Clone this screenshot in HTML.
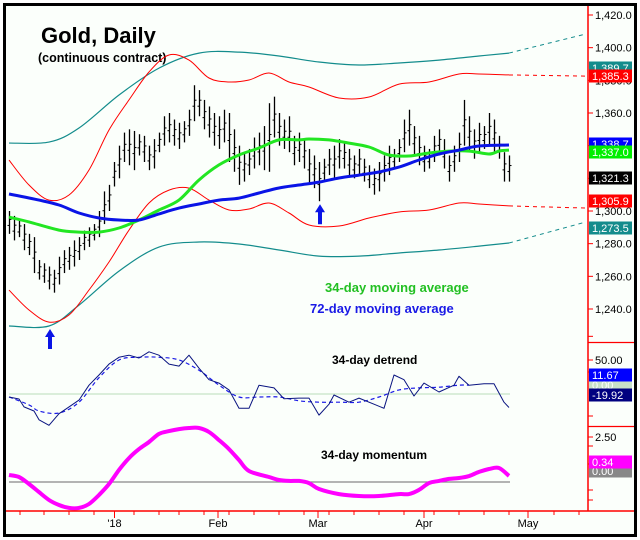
<!DOCTYPE html>
<html><head><meta charset="utf-8"><style>
html,body{margin:0;padding:0;background:#fff}
svg{display:block;font-family:"Liberation Sans",Arial,sans-serif}
</style></head><body>
<svg id="c" width="640" height="540" viewBox="0 0 640 540">
<rect x="0" y="0" width="640" height="540" fill="#fff"/>
<rect x="4.5" y="4.5" width="631" height="531" fill="#fbfffb" stroke="#000" stroke-width="3"/>
<text x="41" y="43" font-size="22" font-weight="bold" fill="#000">Gold, Daily</text>
<text x="38" y="62" font-size="12.5" font-weight="bold" fill="#000">(continuous contract)</text>
<text x="325" y="292" font-size="13" font-weight="bold" fill="#22c022">34-day moving average</text>
<text x="310" y="313" font-size="13" font-weight="bold" fill="#1a1ae6">72-day moving average</text>
<text x="332" y="364" font-size="12" font-weight="bold" fill="#000">34-day detrend</text>
<text x="321" y="459" font-size="12" font-weight="bold" fill="#000">34-day momentum</text>
<g id="plot"></g>
<g id="axis"></g>
</svg>
<script>
// ---- data ----
const highs=[1300,1297,1294,1292,1286,1284,1270,1268,1266,1264,1272,1276,1278,1282,1284,1288,1290,1292,1300,1312,1316,1330,1340,1348,1350,1349,1347,1346,1340,1344,1348,1358,1360,1356,1354,1355,1362,1377,1374,1368,1364,1360,1358,1362,1360,1350,1340,1336,1338,1345,1348,1352,1366,1370,1360,1356,1358,1346,1348,1344,1338,1334,1330,1332,1338,1340,1344,1342,1338,1334,1338,1332,1328,1326,1330,1334,1340,1338,1344,1356,1362,1352,1346,1340,1338,1346,1350,1344,1334,1340,1348,1368,1358,1350,1354,1352,1360,1356,1346,1336,1334];
const lows=[1286,1282,1284,1276,1273,1262,1258,1256,1252,1250,1255,1262,1264,1266,1270,1276,1278,1282,1284,1292,1300,1315,1320,1330,1328,1325,1334,1330,1325,1326,1336,1340,1342,1340,1338,1342,1346,1355,1358,1350,1345,1340,1338,1342,1330,1324,1316,1318,1322,1326,1328,1325,1324,1345,1340,1338,1336,1328,1330,1326,1316,1314,1306,1318,1322,1320,1326,1326,1322,1320,1322,1318,1314,1310,1312,1318,1322,1326,1330,1336,1340,1334,1328,1324,1326,1330,1334,1326,1318,1324,1330,1340,1336,1332,1336,1338,1340,1336,1332,1318,1318];
const bandIdx=[0,8,14,22,30,38,46,54,62,70,78,86,94,100];
const cyanUpper=[1341.6,1342.2,1350.8,1371,1387.5,1396.7,1397.3,1394.9,1391.2,1389.4,1390.6,1392.4,1394.9,1396.7];
const cyanLower=[1229.6,1229.6,1242.4,1263.2,1277.9,1281,1279.8,1276.1,1272.4,1272.4,1274.3,1276.1,1278.5,1280.4];
const redUpperIdx=[0,4,8,12,16,20,24,28,32,36,40,44,48,52,56,60,66,72,78,84,90,94,100];
const redUpper=[1331.2,1315.9,1306.7,1309.8,1325.1,1349.6,1368,1385.1,1395.5,1392.4,1381.4,1379,1380.2,1384.5,1379,1375.9,1369.2,1369.8,1377.7,1379,1383.9,1383.9,1383.3];
const redLower=[1251.6,1239.4,1232,1236.3,1251.6,1268.8,1288.3,1304.9,1312.8,1314,1306.7,1300.6,1301.2,1304.9,1298.8,1291.4,1290.8,1295.7,1299.4,1300.6,1304.9,1304.3,1303.1];
const maIdx=[0,4,10,14,18,22,26,30,34,38,42,46,50,54,58,60,64,68,72,76,80,84,88,92,96,98,100];
const ma34=[1296.3,1293.3,1288.3,1287.1,1287.1,1289.6,1294.5,1300.6,1306.7,1319,1328.2,1334.3,1338.6,1343.5,1343.5,1344.1,1343.5,1341.6,1339.2,1334.3,1333.7,1335.5,1336.7,1336.7,1334.9,1336.7,1337.3];
const ma72Idx=[0,6,10,14,18,22,26,30,34,38,42,46,50,54,58,62,66,70,74,78,82,86,90,94,100];
const ma72=[1310.4,1306.7,1303.7,1298.8,1295.7,1294.5,1294.5,1298.2,1301.8,1304.3,1306.7,1307.9,1311,1314.1,1315.9,1317.7,1320.2,1322,1323.9,1326.9,1331.2,1334.9,1337.3,1339.8,1340.4];
const dashEnd={cyanUpper:1408.4,cyanLower:1293.3,redUpper:1382.6,redLower:1301.8};
const detIdx=[0,2,3,5,6,8,10,12,14,16,18,20,22,24,26,28,30,32,34,36,38,40,42,44,46,48,50,53,55,58,60,62,64,65,68,70,73,75,77,79,81,83,86,89,90,92,95,97,98,99,100];
const detrend=[-4.4,-7.4,-19,-25,-38,-46,-29,-19,-9,13,28,44,54,57,53,62,57,44,41,57,38,21,16,6,-21,-21,13,9,-7,-6,-6,-31,-15,-1.5,-12,-6,-15,-21,28,21,-3,16,3,13,26,13,15,15,1.5,-12,-19.92];
const detMaIdx=[0,4,6,10,14,18,22,26,30,34,38,42,46,50,54,58,62,66,70,74,78,82,86,90,92];
const detrendMa=[-4.4,-16,-25,-28,-12,24,50,54,54,50,35,13,-4.4,-4.4,-4.4,-10,-12,-12,-12,-4.4,6,9,10,13,13];
const momIdx=[0,2,4,6,8,10,12,14,16,18,20,22,24,26,28,30,32,34,36,38,40,42,44,46,48,52,54,56,58,60,62,66,70,74,78,80,82,84,86,88,90,92,94,96,98,100];
const momentum=[0.39,0.28,-0.11,-0.56,-1,-1.28,-1.44,-1.44,-1.22,-0.72,-0.11,0.67,1.33,1.83,2.22,2.67,2.83,2.94,3,3,2.78,2.33,1.83,1.22,0.61,0.28,0.11,0.06,0.06,-0.06,-0.39,-0.67,-0.78,-0.78,-0.67,-0.67,-0.44,-0.06,0.06,0.17,0.22,0.33,0.56,0.72,0.78,0.34];
const priceTicks=[1420,1400,1380,1360,1340,1320,1300,1280,1260,1240];
const detTicks=[50];
const momTicks=[2.5,1];
const monthLabels=["'18","Feb","Mar","Apr","May"];
const monthBar=[21.1,41.8,61.8,83,103.8];

// ---- scales ----
const NS="http://www.w3.org/2000/svg";
const xB=i=>9+i*5;
const yP=p=>15+(1420-p)*1.6333;
const yD=v=>394-v*0.68;
const yM=v=>482-v*18;
const plot=document.getElementById('plot'), axis=document.getElementById('axis');
function mk(tag,attrs,parent){const e=document.createElementNS(NS,tag);for(const k in attrs)e.setAttribute(k,attrs[k]);(parent||plot).appendChild(e);return e;}
function smoothPath(pts){let d=`M${pts[0][0]},${pts[0][1]}`;for(let i=0;i<pts.length-1;i++){const p0=pts[Math.max(0,i-1)],p1=pts[i],p2=pts[i+1],p3=pts[Math.min(pts.length-1,i+2)];const c1=[p1[0]+(p2[0]-p0[0])/6,p1[1]+(p2[1]-p0[1])/6],c2=[p2[0]-(p3[0]-p1[0])/6,p2[1]-(p3[1]-p1[1])/6];d+=` C${c1[0].toFixed(1)},${c1[1].toFixed(1)} ${c2[0].toFixed(1)},${c2[1].toFixed(1)} ${p2[0]},${p2[1].toFixed(1)}`;}return d;}
function line(idx,vals,ys,color,w,name,dash,smooth){
  const pts=idx.map((b,i)=>[xB(b),ys(vals[i])]);
  const d=smooth?smoothPath(pts):'M'+pts.map(p=>p[0]+','+p[1].toFixed(1)).join(' L');
  const e=mk('path',{d:d,fill:'none',stroke:color,'stroke-width':w,'stroke-linejoin':'round'});
  if(dash)e.setAttribute('stroke-dasharray',dash);
  
  
  return e;
}
function dashExt(lastVal,endVal,color,name){
  const e=mk('line',{x1:xB(100),y1:yP(lastVal),x2:586,y2:yP(endVal),stroke:color,'stroke-width':1,'stroke-dasharray':'4,4'});
  
  
}
line(bandIdx,cyanUpper,yP,'#138c8c',1.2,'upper-outer-band',null,true);
line(bandIdx,cyanLower,yP,'#138c8c',1.2,'lower-outer-band',null,true);
line(redUpperIdx,redUpper,yP,'#ff0000',1,'upper-inner-band',null,true);
line(redUpperIdx,redLower,yP,'#ff0000',1,'lower-inner-band',null,true);
dashExt(cyanUpper[cyanUpper.length-1],dashEnd.cyanUpper,'#138c8c','upper-outer-band-projection');
dashExt(cyanLower[cyanLower.length-1],dashEnd.cyanLower,'#138c8c','lower-outer-band-projection');
dashExt(redUpper[redUpper.length-1],dashEnd.redUpper,'#ff0000','upper-inner-band-projection');
dashExt(redLower[redLower.length-1],dashEnd.redLower,'#ff0000','lower-inner-band-projection');
for(let i=0;i<highs.length;i++){
  const g=mk('g',{});
  
  
  const x=xB(i)+0.5,yh=yP(highs[i]),yl=yP(lows[i]),ym=(yh+yl)/2;
  mk('line',{x1:x,y1:yh,x2:x,y2:yl,stroke:'#000','stroke-width':1.3},g);
  mk('line',{x1:x,y1:ym-3,x2:x+2,y2:ym-3,stroke:'#000','stroke-width':1},g);
  mk('line',{x1:x-2,y1:ym+3,x2:x,y2:ym+3,stroke:'#000','stroke-width':1},g);
}
line(maIdx,ma34,yP,'#22e622',3,'ma-34-line',null,true);
line(ma72Idx,ma72,yP,'#0a14e6',3,'ma-72-line',null,true);
[[8,1229.6],[62,1306]].forEach(([b,p])=>{
  const x=xB(b)+1,y=yP(p)+3;
  const a=mk('path',{d:`M${x},${y} l-5,8 h3 v12 h4 v-12 h3 z`,fill:'#0a14e6'});
  
  
});
mk('line',{x1:9,y1:yD(0),x2:510,y2:yD(0),stroke:'#b8dcb8','stroke-width':1});
line(detMaIdx,detrendMa,yD,'#1a1ae6',1.2,'detrend-average-line','4,3',true);
line(detIdx,detrend,yD,'#0a1480',1,'detrend-line',null,false);
mk('line',{x1:9,y1:yM(0),x2:510,y2:yM(0),stroke:'#888','stroke-width':1.2});
line(momIdx,momentum,yM,'#ff00ff',4,'momentum-line',null,true);
function ax(tag,a){return mk(tag,a,axis);}
ax('line',{x1:588,y1:6,x2:588,y2:511,stroke:'#f00','stroke-width':1.5});
ax('line',{x1:588,y1:342.5,x2:634,y2:342.5,stroke:'#f00','stroke-width':1.3});
ax('line',{x1:588,y1:426.5,x2:634,y2:426.5,stroke:'#f00','stroke-width':1.3});
ax('line',{x1:6,y1:511,x2:634,y2:511,stroke:'#f00','stroke-width':1.5});
function tickLabel(y,txt,name){
  ax('line',{x1:588,y1:y,x2:593,y2:y,stroke:'#f00','stroke-width':1});
  const t=ax('text',{x:595,y:y+4,'font-size':11,fill:'#000'});t.textContent=txt;
  
  
}
priceTicks.forEach(p=>tickLabel(yP(p),p.toLocaleString('en-US',{minimumFractionDigits:1}),'price-tick-label'));
[1230].forEach(p=>ax('line',{x1:588,y1:yP(p)+11,x2:593,y2:yP(p)+11,stroke:'#f00'}));
detTicks.forEach(v=>tickLabel(yD(v),v.toFixed(2),'detrend-tick-label'));
momTicks.forEach(v=>tickLabel(yM(v),v.toFixed(2),'momentum-tick-label'));
[372,416].forEach(y=>ax('line',{x1:588,y1:y,x2:593,y2:y,stroke:'#f00'}));
[446,490,500].forEach(y=>ax('line',{x1:588,y1:y,x2:593,y2:y,stroke:'#f00'}));
function badge(y,txt,bg,fg,name){
  const g=ax('g',{});
  
  
  mk('rect',{x:589,y:y-6.5,width:43,height:13,fill:bg},g);
  const t=mk('text',{x:592,y:y+4,'font-size':11,fill:fg},g);t.textContent=txt;
}
badge(68,'1,389.7','#138c8c','#fff','outer-upper-value');
badge(76,'1,385.3','#ff0000','#fff','inner-upper-value');
badge(144,'1,338.7','#0000ff','#fff','ma-72-value');
badge(152,'1,337.0','#00ee00','#fff','ma-34-value');
badge(178,'1,321.3','#000','#fff','last-price-value');
badge(201,'1,305.9','#ff0000','#fff','inner-lower-value');
badge(228,'1,273.5','#138c8c','#fff','outer-lower-value');
badge(385,'0.00','#c8e0c8','#fff','detrend-zero-value');
badge(375,'11.67','#0000ff','#fff','detrend-average-value');
badge(395,'-19.92','#000080','#fff','detrend-value');
badge(471,'0.00','#888','#fff','momentum-zero-value');
badge(462,'0.34','#ff00ff','#fff','momentum-value');
const weekBars=[2.2,7,12,17,21.1,25,30,34,39,41.8,44,49,54,59,61.8,64,69,74,79,83,85,90,95,100,103.8,109,114];
weekBars.forEach(b=>ax('line',{x1:xB(b),y1:511,x2:xB(b),y2:monthBar.includes(b)?518:515,stroke:'#f00','stroke-width':1}));
monthLabels.forEach((m,i)=>{const t=ax('text',{x:xB(monthBar[i]),y:527,'font-size':11,'text-anchor':'middle',fill:'#000'});t.textContent=m;
  
  });
</script>
</body></html>
